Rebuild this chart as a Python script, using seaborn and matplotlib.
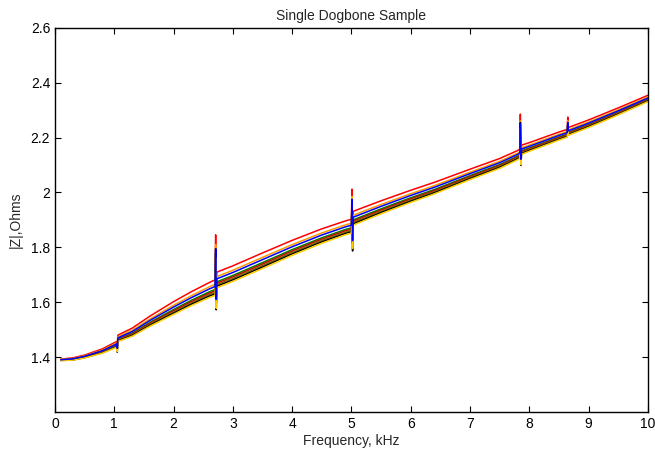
import numpy as np
import pandas as pd
import matplotlib
matplotlib.use("Agg")
import matplotlib.pyplot as plt
import seaborn as sns

# --- datos ---
freq_khz = [0.10, 0.30, 0.50, 0.80, 1.04, 1.05, 1.06, 1.30, 1.60, 2.00, 2.30, 2.60,
            2.70, 2.71, 2.72, 2.73, 2.80, 3.00, 3.50, 4.00, 4.50, 4.90, 5.00, 5.01,
            5.02, 5.03, 5.50, 6.00, 6.40, 7.00, 7.50, 7.80, 7.84, 7.85, 7.86, 7.87,
            8.00, 8.50, 8.64, 8.65, 8.66, 9.00, 9.50, 10.00]

# curva central (sin resonancias)
z_center = [1.390, 1.393, 1.402, 1.422, 1.446, 1.450, 1.468, 1.490, 1.530, 1.578, 1.612, 1.643,
            1.652, 1.660, 1.660, 1.680, 1.686, 1.703, 1.750, 1.797, 1.840, 1.870, 1.876, 1.890,
            1.890, 1.905, 1.945, 1.985, 2.015, 2.065, 2.105, 2.135, 2.140, 2.148, 2.148, 2.155,
            2.165, 2.205, 2.215, 2.218, 2.222, 2.250, 2.295, 2.342]

# desviación de las resonancias sobre la curva central
z_spike = [0, 0, 0, 0, 0, -0.020, 0, 0, 0, 0, 0, 0,
           0, 0.130, -0.055, 0, 0, 0, 0, 0, 0, 0, 0, 0.080,
           -0.070, 0, 0, 0, 0, 0, 0, 0, 0, 0.100, -0.030, 0,
           0, 0, 0, 0.035, 0, 0, 0, 0]

# ancho de la banda de curvas en cada frecuencia
band_width = [0.005, 0.008, 0.010, 0.015, 0.020, 0.020, 0.022, 0.028, 0.035, 0.044, 0.048, 0.052,
              0.054, 0.054, 0.054, 0.054, 0.054, 0.054, 0.054, 0.052, 0.050, 0.048, 0.048, 0.048,
              0.048, 0.048, 0.045, 0.042, 0.040, 0.036, 0.034, 0.032, 0.032, 0.032, 0.032, 0.032,
              0.030, 0.028, 0.027, 0.027, 0.027, 0.026, 0.024, 0.022]

# una curva por medición
run_names = ['r1', 'r2', 'r3', 'r4', 'r5', 'r6', 'r7', 'r8']
run_colors = ['#ff0000', '#ff9900', '#008000', '#cc0000', '#7f6a00', '#000000', '#ffcc00', '#0000ff']
run_offsets = [0.55, 0.25, -0.10, -0.20, -0.30, -0.40, -0.50, 0.10]
run_spike_gain = [1.20, 1.05, 0.95, 0.90, 0.90, 1.20, 1.00, 1.00]

rows = []
for name, off, gain in zip(run_names, run_offsets, run_spike_gain):
    for f, zc, zs, bw in zip(freq_khz, z_center, z_spike, band_width):
        rows.append({'run': name, 'freq': f, 'z': zc + off * bw + gain * zs})
df = pd.DataFrame(rows)

sns.set_style("ticks")
plt.rcParams['font.family'] = ['Liberation Sans', 'DejaVu Sans']

fig = plt.figure(figsize=(6.55, 4.53), dpi=100)
ax = fig.add_axes([0.084, 0.0905, 0.905, 0.848])

sns.lineplot(data=df, x='freq', y='z', hue='run', hue_order=run_names,
             palette=dict(zip(run_names, run_colors)), estimator=None, sort=False,
             linewidth=1.1, legend=False, ax=ax)

ax.set_xlim(0, 10)
ax.set_ylim(1.2, 2.6)
ax.set_xticks(range(0, 11))
ax.set_xticklabels([str(i) for i in range(0, 11)])
ax.set_yticks([1.4, 1.6, 1.8, 2.0, 2.2, 2.4, 2.6])
ax.set_yticklabels(['1.4', '1.6', '1.8', '2', '2.2', '2.4', '2.6'])
ax.tick_params(direction='in', top=True, right=True, length=4, width=0.8,
               labelsize=10, colors='black')
for s in ax.spines.values():
    s.set_visible(True)
    s.set_linewidth(1.0)
    s.set_color('black')

ax.set_title('Single Dogbone Sample', fontsize=10)
ax.set_xlabel('Frequency, kHz', fontsize=10, labelpad=2)
ax.set_ylabel('|Z|,Ohms', fontsize=10, labelpad=6)

fig.savefig('out.png', dpi=100)
